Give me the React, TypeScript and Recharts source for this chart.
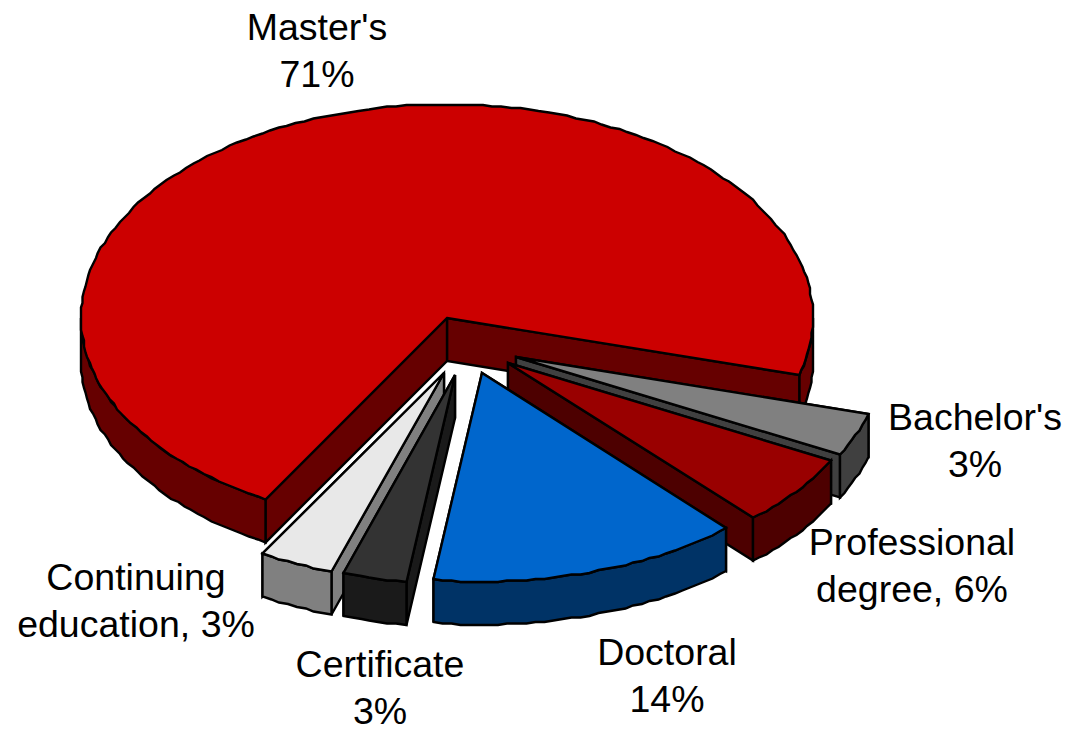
import { Pie, PieChart } from 'recharts'

// Continuing education comes first so that Certificate is painted over it
const names = ['Continuing education', "Master's", "Bachelor's", 'Professional degree', 'Doctoral', 'Certificate']
const shares = [3.3, 71.2, 3.3, 5.6, 13.8, 2.8]
const pieData = names.map((name, i) => ({ name, value: shares[i] }))

// first and second line of every label, the percentage is added from the value
const labelHead = ['Continuing', "Master's", "Bachelor's", 'Professional', 'Doctoral', 'Certificate']
const labelTail = ['education, ', '', '', 'degree, ', '', '']

// styling per slice
const TOP_COLORS = ['#e8e8e8', '#cc0000', '#808080', '#990000', '#0066cc', '#333333']
const SIDE_COLORS = ['#808080', '#660000', '#404040', '#4d0000', '#003366', '#1a1a1a']
const EXPLODE_X = [-3, 0, 69, 61, 35, 8]
const EXPLODE_Y = [55, 0, 39, 45, 55, 57]
const LABEL_X = [136, 317, 975, 912, 667, 380]
const LABEL_Y = [590, 40, 430, 555, 665, 677]

const TILT_BACK = 0.584
const TILT_FRONT = 0.57
const DEPTH = 43
const SNAP = 1.5
const FONT = '"Liberation Sans", Arial, sans-serif'

const rad = (deg: number) => (deg * Math.PI) / 180
const snap = (v: number) => Math.round(v / SNAP) * SNAP

// rim point of the tilted disc, snapped a little like the low-res source outline
const rimPoint = (cx: number, cy: number, r: number, deg: number, drop = 0): [number, number] => {
  const s = Math.sin(rad(deg))
  return [snap(cx + r * Math.cos(rad(deg))), snap(cy - r * (s > 0 ? TILT_BACK : TILT_FRONT) * s) + drop]
}

const rimPoints = (cx: number, cy: number, r: number, from: number, to: number, drop = 0) => {
  const steps = Math.max(1, Math.ceil(Math.abs(to - from) / 1.5))
  const pts: [number, number][] = []
  for (let i = 0; i <= steps; i++) {
    pts.push(rimPoint(cx, cy, r, from + ((to - from) * i) / steps, drop))
  }
  return pts
}

const toPath = (pts: [number, number][]) => `M${pts.map(p => p.join(',')).join('L')}Z`

const Slice3D = (props: any) => {
  const { cx, cy, outerRadius, startAngle, endAngle, index } = props
  const ox = cx + EXPLODE_X[index]
  const oy = cy + EXPLODE_Y[index]
  const lo = Math.min(startAngle, endAngle)
  const hi = Math.max(startAngle, endAngle)
  const stroke = { stroke: '#000', strokeWidth: 2.4, strokeLinejoin: 'miter' as const, strokeMiterlimit: 3 }

  const face = (deg: number) => {
    const [x, y] = rimPoint(ox, oy, outerRadius, deg)
    return toPath([[ox, oy], [x, y], [x, y + DEPTH], [ox, oy + DEPTH]])
  }
  // back cut first, the one nearer the viewer goes over it
  const cuts = [lo, hi].sort((a, b) => Math.sin(rad(b)) - Math.sin(rad(a)))

  // the outer wall shows only on the front half of the disc
  const walls: string[] = []
  for (const base of [-180, 180, 540]) {
    const from = Math.max(lo, base)
    const to = Math.min(hi, base + 180)
    if (to > from) {
      walls.push(toPath([...rimPoints(ox, oy, outerRadius, from, to), ...rimPoints(ox, oy, outerRadius, to, from, DEPTH)]))
    }
  }

  return (
    <g>
      {cuts.map(deg => (
        <path key={deg} d={face(deg)} fill={SIDE_COLORS[index]} {...stroke} />
      ))}
      {walls.map(d => (
        <path key={d} d={d} fill={SIDE_COLORS[index]} {...stroke} />
      ))}
      <path d={toPath([[ox, oy], ...rimPoints(ox, oy, outerRadius, lo, hi)])} fill={TOP_COLORS[index]} {...stroke} />
    </g>
  )
}

const SliceLabel = (props: any) => {
  const { index, value } = props
  const pct = `${Math.round(value)}%`
  return (
    <text fontFamily={FONT} fontSize={37.5} fill="#000" textAnchor="middle">
      <tspan x={LABEL_X[index]} y={LABEL_Y[index]}>
        {labelHead[index]}
      </tspan>
      <tspan x={LABEL_X[index]} y={LABEL_Y[index] + 47}>
        {labelTail[index] + pct}
      </tspan>
    </text>
  )
}

export default function App() {
  return (
    <div style={{ position: 'absolute', left: 0, top: 0, width: 1074, height: 729 }}>
      <PieChart width={1074} height={729} margin={{ top: 0, right: 0, bottom: 0, left: 0 }}>
        <Pie
          data={pieData}
          dataKey="value"
          nameKey="name"
          cx={447}
          cy={318}
          innerRadius={0}
          outerRadius={366}
          startAngle={252.2}
          endAngle={-107.8}
          paddingAngle={0}
          shape={Slice3D}
          label={SliceLabel}
          labelLine={false}
          isAnimationActive={false}
        />
      </PieChart>
    </div>
  )
}
